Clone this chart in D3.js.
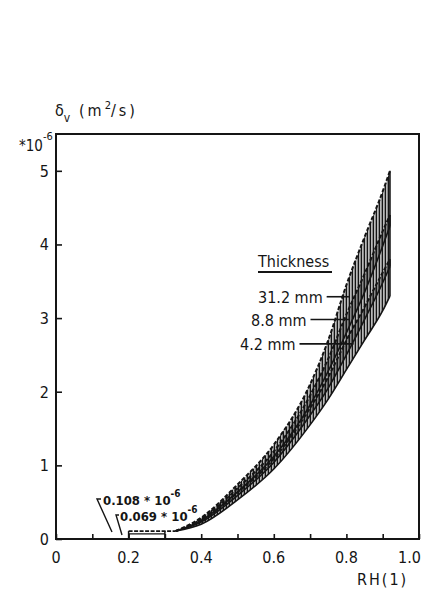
<!DOCTYPE html>
<html><head><meta charset="utf-8">
<script src="https://cdn.jsdelivr.net/npm/d3@7"></script>
<style>
body{margin:0;background:#fff;}
svg{display:block;font-family:"DejaVu Sans Condensed","DejaVu Sans",sans-serif;}
</style></head>
<body><svg id="c" width="422" height="590"></svg>
<script>
// RH values where the band curves were read
const rh = [0.33, 0.4, 0.5, 0.6, 0.7, 0.75, 0.8, 0.85, 0.9, 0.92];
// band edges, delta_v in 1e-6 m2/s
const t31Upper = [0.108, 0.29, 0.74, 1.28, 2.10, 2.70, 3.45, 4.10, 4.72, 5.00];
const t31Lower = [0.108, 0.25, 0.64, 1.12, 1.82, 2.28, 2.80, 3.35, 3.98, 4.25];
const t88Upper = [0.108, 0.27, 0.69, 1.19, 1.95, 2.45, 3.05, 3.60, 4.18, 4.40];
const t88Lower = [0.108, 0.23, 0.59, 1.04, 1.68, 2.05, 2.50, 2.98, 3.48, 3.70];
const t42Upper = [0.108, 0.25, 0.63, 1.09, 1.78, 2.20, 2.70, 3.15, 3.62, 3.80];
const t42Lower = [0.108, 0.20, 0.53, 0.95, 1.55, 1.90, 2.30, 2.70, 3.10, 3.30];
const bandNames = ["31.2 mm", "8.8 mm", "4.2 mm"];
const bandLeaderY = [3.29, 2.98, 2.65];
const bandLeaderX = [0.807, 0.807, 0.82];
// low-RH plateau
const plateauRH = [0.2, 0.3, 0.33];
const plateauHigh = 0.108;
const plateauLow = 0.069;
const xTicks = [0, 0.1, 0.2, 0.3, 0.4, 0.5, 0.6, 0.7, 0.8, 0.9, 1.0];
const xTickLabels = ["0", "0.2", "0.4", "0.6", "0.8", "1.0"];
const yTicks = [0, 1, 2, 3, 4, 5];

const svg = d3.select("#c");
const x = d3.scaleLinear().domain([0, 1]).range([56, 419]);
const y = d3.scaleLinear().domain([0, 5.5]).range([539, 134]);
const ink = "#151515";

// hatch pattern
const defs = svg.append("defs");
defs.append("pattern").attr("id", "hatch").attr("patternUnits", "userSpaceOnUse")
  .attr("width", 3).attr("height", 6)
  .append("rect").attr("x", 0.5).attr("y", 0).attr("width", 1.8).attr("height", 6).attr("fill", ink);

const bands = [
  {up: t31Upper, lo: t31Lower},
  {up: t88Upper, lo: t88Lower},
  {up: t42Upper, lo: t42Lower}
];
const area = d3.area().x((d) => x(d.r)).y0((d) => y(d.lo)).y1((d) => y(d.up)).curve(d3.curveMonotoneX);
const line = d3.line().x((d) => x(d.r)).y((d) => y(d.v)).curve(d3.curveMonotoneX);

bands.forEach((b) => {
  const pts = rh.map((r, i) => ({r, up: b.up[i], lo: b.lo[i]}));
  svg.append("path").attr("d", area(pts)).attr("fill", "url(#hatch)");
});
bands.forEach((b) => {
  svg.append("path").attr("d", line(rh.map((r, i) => ({r, v: b.up[i]}))))
    .attr("fill", "none").attr("stroke", ink).attr("stroke-width", 2).attr("stroke-dasharray", "4,2");
  svg.append("path").attr("d", line(rh.map((r, i) => ({r, v: b.lo[i]}))))
    .attr("fill", "none").attr("stroke", ink).attr("stroke-width", 1.6);
  svg.append("line").attr("x1", x(rh[rh.length-1])).attr("x2", x(rh[rh.length-1]))
    .attr("y1", y(b.up[b.up.length-1])).attr("y2", y(b.lo[b.lo.length-1]))
    .attr("stroke", ink).attr("stroke-width", 1.6);
});

// plateau
const g = svg.append("g").attr("stroke", ink).attr("fill", "none");
g.append("line").attr("x1", x(plateauRH[0])).attr("x2", x(plateauRH[2])).attr("y1", y(plateauHigh)).attr("y2", y(plateauHigh)).attr("stroke-width", 1.8).attr("stroke-dasharray", "4,1.5");
g.append("line").attr("x1", x(plateauRH[0])).attr("x2", x(plateauRH[1])).attr("y1", y(plateauLow)).attr("y2", y(plateauLow)).attr("stroke-width", 1.1);
[plateauRH[0], plateauRH[1]].forEach((r) => {
  g.append("line").attr("x1", x(r)).attr("x2", x(r)).attr("y1", y(0)).attr("y2", y(plateauHigh)).attr("stroke-width", 1.5);
});

// frame
svg.append("path").attr("d", `M${x(0)},${y(0)}H${x(1)}V${y(5.5)}H${x(0)}Z`)
  .attr("fill", "none").attr("stroke", ink).attr("stroke-width", 2);

// axes
const xAxis = d3.axisBottom(x).tickValues(xTicks).tickSize(-5).tickFormat("");
const gx = svg.append("g").attr("transform", `translate(0,${y(0)})`).call(xAxis);
gx.select(".domain").remove();
gx.selectAll("line").attr("stroke", ink).attr("stroke-width", 1.6);
const yAxis = d3.axisLeft(y).tickValues(yTicks).tickSize(-6).tickFormat("");
const gy = svg.append("g").attr("transform", `translate(${x(0)},0)`).call(yAxis);
gy.select(".domain").remove();
gy.selectAll("line").attr("stroke", ink).attr("stroke-width", 1.6);

svg.append("g").selectAll("text").data(xTickLabels).join("text")
  .attr("x", (d) => d === "1.0" ? 421 : x(+d)).attr("y", 563)
  .attr("text-anchor", (d) => d === "1.0" ? "end" : "middle")
  .attr("font-size", 16).attr("fill", ink).text((d) => d);
svg.append("g").selectAll("text").data(yTicks).join("text")
  .attr("x", 49).attr("y", (d) => y(d) + 6).attr("text-anchor", "end")
  .attr("font-size", 16).attr("fill", ink).text((d) => d);

svg.append("text").attr("x", 357).attr("y", 585).attr("font-size", 16).attr("fill", ink)
  .attr("letter-spacing", 2).text("RH(1)");

// y title
const t1 = svg.append("text").attr("x", 55).attr("y", 116).attr("font-size", 16).attr("fill", ink);
t1.append("tspan").text("δ");
t1.append("tspan").attr("font-size", 12).attr("dy", 6).text("v");
t1.append("tspan").attr("x", 79).attr("dy", -6).attr("font-size", 16).attr("letter-spacing", 3).text("(m");
t1.append("tspan").attr("dy", -7).attr("font-size", 11).text("2");
t1.append("tspan").attr("dy", 7).attr("font-size", 16).attr("letter-spacing", 3).text("/s)");

const t2 = svg.append("text").attr("x", 19).attr("y", 151).attr("font-size", 15).attr("fill", ink);
t2.append("tspan").text("*10");
t2.append("tspan").attr("dy", -11).attr("font-size", 11).text("-6");

// legend
svg.append("text").attr("x", 258).attr("y", 267).attr("font-size", 16).attr("fill", ink).text("Thickness");
svg.append("line").attr("x1", 258).attr("x2", 332).attr("y1", 272).attr("y2", 272).attr("stroke", ink).attr("stroke-width", 2.2);
const labStart = [258, 251, 240];
bandNames.forEach((n, i) => {
  const yy = y(bandLeaderY[i]);
  const tt = svg.append("text").attr("x", labStart[i]).attr("y", yy + 6).attr("font-size", 16).attr("fill", ink).text(n);
  const w = tt.node().getComputedTextLength();
  svg.append("line").attr("x1", labStart[i] + w + 4).attr("x2", x(bandLeaderX[i]))
    .attr("y1", yy).attr("y2", yy).attr("stroke", ink).attr("stroke-width", 1.6);
});

// plateau annotations
function ann(xs, ys, val) {
  const t = svg.append("text").attr("x", xs).attr("y", ys).attr("font-size", 13).attr("font-weight", "bold").attr("fill", ink);
  t.append("tspan").text(val + " * 10");
  t.append("tspan").attr("dy", -8).attr("font-size", 10).text("-6");
}
ann(103, 505, "0.108");
ann(120, 521, "0.069");
svg.append("path").attr("d", `M101,499 L97,499 L112,532`).attr("fill", "none").attr("stroke", ink).attr("stroke-width", 1.4);
svg.append("path").attr("d", `M119,515 L116,515 L122,535`).attr("fill", "none").attr("stroke", ink).attr("stroke-width", 1.4);
</script></body></html>
